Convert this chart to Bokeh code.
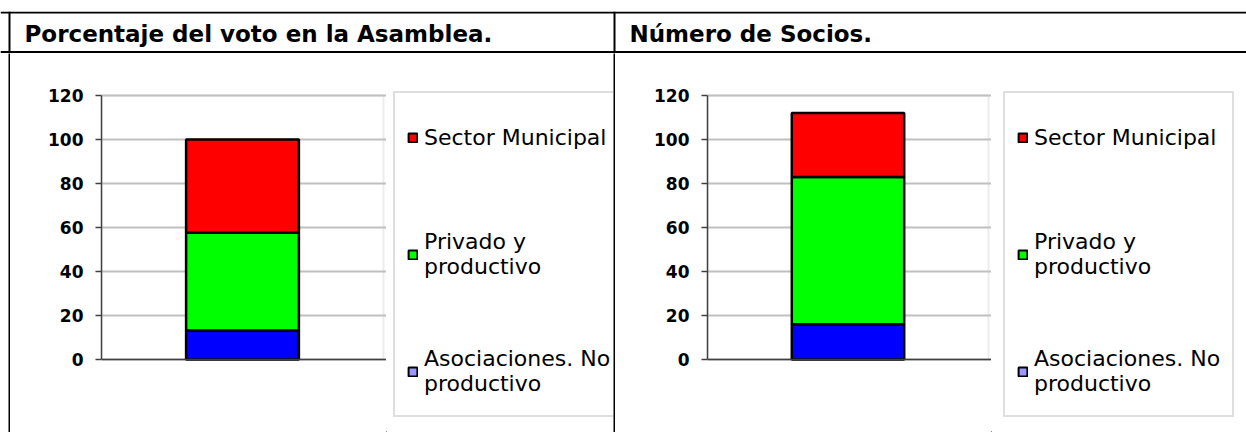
from bokeh.plotting import figure
from bokeh.models import (Range1d, FixedTicker, Legend, LegendItem, Span, Label,
                          BoxAnnotation, ColumnDataSource, Spacer)
from bokeh.layouts import column, row
from bokeh.embed import file_html
from bokeh.resources import INLINE

# ---------------- data ----------------
title_left = "Porcentaje del voto en la Asamblea."
title_right = "Número de Socios."

series = ["aso", "priv", "muni"]
series_labels = ["Asociaciones. No\nproductivo", "Privado y\nproductivo", "Sector Municipal"]
bar_colors = ["#0000ff", "#00ff00", "#ff0000"]
legend_swatch_colors = ["#9999ff", "#00ff00", "#ff0000"]

cat_left = ["Votos"]
votos_aso = [13.2]
votos_priv = [44.4]
votos_muni = [42.4]

cat_right = ["Socios"]
socios_aso = [16]
socios_priv = [67]
socios_muni = [29]

y_ticks = [0, 20, 40, 60, 80, 100, 120]
y_max = 120

# ---------------- styles / geometry ----------------
GRID = "#c0c0c0"
AXIS = "#404040"
TICK_FONT = "DejaVu Sans"
LEG_FONT = "DejaVu Sans"
BODY_H = 379          # body row height in px
AREA_TOP = 42         # plot area top, px from body top
AREA_BOTTOM = 306     # plot area bottom (value 0), px from body top
PX_PER_UNIT = (AREA_BOTTOM - AREA_TOP) / y_max
RIGHT_PAD = 3         # px kept right of the plot area so its border is not cut


def chart(cats, aso, priv, muni, left, area_w):
    n = len(cats)
    idx = list(range(n))
    src = ColumnDataSource(dict(cat=cats, x=idx, aso=aso, priv=priv, muni=muni))
    y_start = -(BODY_H - AREA_BOTTOM) / PX_PER_UNIT
    y_end = y_max + AREA_TOP / PX_PER_UNIT
    x_end = n - 0.5 + RIGHT_PAD * n / area_w
    p = figure(width=left + area_w + RIGHT_PAD, height=BODY_H,
               x_range=Range1d(-0.5, x_end), y_range=Range1d(y_start, y_end),
               x_axis_type=None, toolbar_location=None, output_backend="svg",
               min_border=0, min_border_left=left,
               outline_line_color=None,
               background_fill_color="white", border_fill_color="white")
    # plot-area frame (grey box)
    p.add_layout(BoxAnnotation(left=-0.5, right=n - 0.5, bottom=0, top=y_max,
                               fill_alpha=0, line_color=GRID, line_width=2, level="underlay"))
    ya = p.yaxis[0]
    ya.bounds = (0, y_max)
    ya.ticker = FixedTicker(ticks=y_ticks)
    ya.axis_line_color = AXIS
    ya.axis_line_width = 1.5
    ya.major_tick_line_color = AXIS
    ya.major_tick_line_width = 1.5
    ya.major_tick_in = 0
    ya.major_tick_out = 6
    ya.minor_tick_line_color = None
    ya.major_label_standoff = 12
    ya.major_label_text_font = TICK_FONT
    ya.major_label_text_font_style = "bold"
    ya.major_label_text_font_size = "17px"
    ya.major_label_text_color = "black"
    p.ygrid.ticker = FixedTicker(ticks=y_ticks)
    p.ygrid.grid_line_color = GRID
    p.ygrid.grid_line_width = 2
    p.ygrid.bounds = (-0.5, y_max)
    p.xgrid.grid_line_color = None

    p.vbar_stack(series, x="x", width=0.4, source=src, fill_color=bar_colors,
                 line_color="black", line_width=2.5)
    # category axis line at value 0
    p.add_layout(Span(location=0, dimension="width", line_color=AXIS, line_width=1.5))
    return p


def legend_fig(width, leg_loc):
    f = figure(width=width, height=BODY_H, x_range=Range1d(0, 1), y_range=Range1d(0, 1),
               toolbar_location=None, output_backend="svg",
               x_axis_type=None, y_axis_type=None, min_border=0,
               outline_line_color=None,
               background_fill_color="white", border_fill_color="white")
    f.grid.visible = False
    # legend carriers, kept outside the visible range
    carrier = ColumnDataSource(dict(x=[-5], top=[-5]))
    items = []
    for lab, col in reversed(list(zip(series_labels, legend_swatch_colors))):
        r = f.vbar(x="x", top="top", width=0.4, source=carrier,
                   fill_color=col, line_color="black", line_width=2)
        items.append(LegendItem(label=lab, renderers=[r]))
    leg = Legend(items=items, location=leg_loc, orientation="vertical",
                 border_line_color=GRID, border_line_width=2,
                 background_fill_color="white", background_fill_alpha=1,
                 label_text_font=LEG_FONT, label_text_font_size="22px",
                 label_text_color="black", label_text_line_height=1.38,
                 glyph_width=11, glyph_height=11, label_standoff=6,
                 label_height=64, padding=12, spacing=53, margin=0)
    f.add_layout(leg)
    return f


def vline(w):
    f = figure(width=w, height=BODY_H, toolbar_location=None, output_backend="svg",
               x_axis_type=None, y_axis_type=None, min_border=0,
               background_fill_color="black", border_fill_color="black",
               outline_line_color=None)
    f.grid.visible = False
    return f


# header
hdr = figure(width=1246, height=53, x_range=Range1d(0, 1246), y_range=Range1d(53, 11),
             toolbar_location=None, output_backend="svg", x_axis_type=None, y_axis_type=None,
             min_border=0, min_border_top=11, outline_line_color=None,
             background_fill_color="white", border_fill_color="white")
hdr.grid.visible = False
for loc in (12, 51.5):
    hdr.add_layout(Span(location=loc, dimension="width", line_color="black", line_width=2))
for loc in (9, 614):
    hdr.add_layout(Span(location=loc, dimension="height", line_color="black", line_width=2))
for x, t in ((24, title_left), (629, title_right)):
    hdr.add_layout(Label(x=x, y=33, text=t, text_font="DejaVu Sans", text_color="black",
                         text_font_style="bold", text_font_size="23px", text_baseline="middle"))

left = chart(cat_left, votos_aso, votos_priv, votos_muni, 91, 282)      # 10 .. 386
right = chart(cat_right, socios_aso, socios_priv, socios_muni, 92, 281)  # 615 .. 991
leg_left = legend_fig(227, (7, 15))     # 386 .. 613
leg_right = legend_fig(255, (12, 15))   # 991 .. 1246

body = row(Spacer(width=8, height=BODY_H), vline(2), left, leg_left, vline(2), right, leg_right,
           spacing=0)
layout = column(hdr, body, spacing=0)

open("out.html", "w").write(file_html(layout, INLINE))
